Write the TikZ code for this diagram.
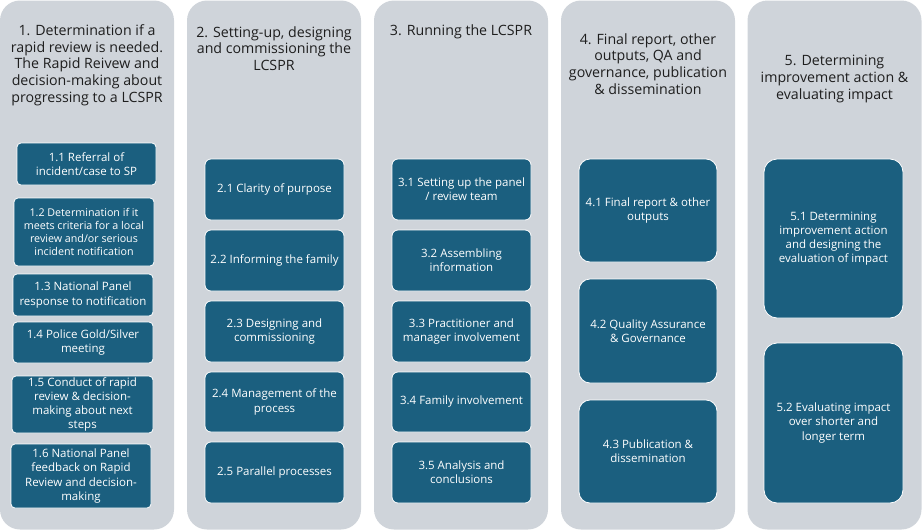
\documentclass[tikz,border=0pt]{standalone}
\usepackage{fontspec}
\setmainfont{Open Sans}
\usepackage{tikz}
\definecolor{LcsprColGrey}{RGB}{207,212,218}
\definecolor{LcsprBoxTeal}{RGB}{27,95,127}
\definecolor{LcsprTitle}{RGB}{30,30,30}
\begin{document}
\begin{tikzpicture}[x=1pt,y=-1pt,col/.style={fill=LcsprColGrey,rounded corners=20pt,minimum width=174pt,minimum height=529pt,inner sep=0pt},ttl/.style={text=LcsprTitle,font=\fontsize{14.2}{16.7}\selectfont,align=center},stp/.style n args={3}{fill=LcsprBoxTeal,draw=white,line width=0.8pt,text=white,font=\fontsize{11.5}{14.2}\selectfont,align=center,minimum width=#1pt,minimum height=#2pt,rounded corners=#3pt,inner sep=1pt}]
\useasboundingbox (0,0) rectangle (922,530);
\foreach \x/\i in %
{87/1,274/2,461/3,648/4,834.5/5} {
   \node[col](c\i) at (\x,265) {};
}
% column titles
   \node[ttl](t1) at (87,65) {1. Determination if a\\rapid review is needed.\\The Rapid Reivew and\\decision-making about\\progressing to a LCSPR};
   \node[ttl](t2) at (274,48.5) {2. Setting-up, designing\\and commissioning the\\LCSPR};
   \node[ttl](t3) at (461,32) {3. Running the LCSPR};
   \node[ttl](t4) at (648,64) {4. Final report, other\\outputs, QA and\\governance, publication\\\& dissemination};
   \node[ttl](t5) at (834.5,79) {5. Determining\\improvement action \&\\evaluating impact};
% steps
   \node[stp={139}{42}{4}](n11) at(86.5,164) {1.1 Referral of\\incident/case to SP};
   \node[stp={140}{68}{4},font=\fontsize{10.7}{13}\selectfont](n12) at(84,232) {1.2 Determination if it\\meets criteria for a local\\review and/or serious\\incident notification};
   \node[stp={140}{42}{4}](n13) at(83,295) {1.3 National Panel\\response to notification};
   \node[stp={140}{41}{4}](n14) at(83,342.5) {1.4 Police Gold/Silver\\meeting};
   \node[stp={141}{57}{4}](n15) at(82.5,404.5) {1.5 Conduct of rapid\\review \& decision-\\making about next\\steps};
   \node[stp={140}{64}{4}](n16) at(81,476) {1.6 National Panel\\feedback on Rapid\\Review and decision-\\making};
   \node[stp={139}{61}{6}](n21) at(274.5,189.5) {2.1 Clarity of purpose};
   \node[stp={139}{61}{6}](n22) at(274.5,260.5) {2.2 Informing the family};
   \node[stp={139}{61}{6}](n23) at(274.5,331.5) {2.3 Designing and\\commissioning};
   \node[stp={139}{60}{6}](n24) at(274.5,402) {2.4 Management of the\\process};
   \node[stp={139}{61}{6}](n25) at(274.5,472.5) {2.5 Parallel processes};
   \node[stp={139}{61}{6}](n31) at(461.5,189.5) {3.1 Setting up the panel\\/ review team};
   \node[stp={139}{61}{6}](n32) at(461.5,260.5) {3.2 Assembling\\information};
   \node[stp={139}{61}{6}](n33) at(461.5,331.5) {3.3 Practitioner and\\manager involvement};
   \node[stp={139}{60}{6}](n34) at(461.5,402) {3.4 Family involvement};
   \node[stp={139}{61}{6}](n35) at(461.5,472.5) {3.5 Analysis and\\conclusions};
   \node[stp={138}{103}{11}](n41) at(648,210.5) {4.1 Final report \& other\\outputs};
   \node[stp={138}{104}{11}](n42) at(648,331) {4.2 Quality Assurance\\\& Governance};
   \node[stp={138}{103}{11}](n43) at(648,451.5) {4.3 Publication \&\\dissemination};
   \node[stp={139}{159}{13}](n51) at(833.5,238.5) {5.1 Determining\\improvement action\\and designing the\\evaluation of impact};
   \node[stp={139}{160}{13}](n52) at(833.5,423) {5.2 Evaluating impact\\over shorter and\\longer term};
\end{tikzpicture}
\end{document}
